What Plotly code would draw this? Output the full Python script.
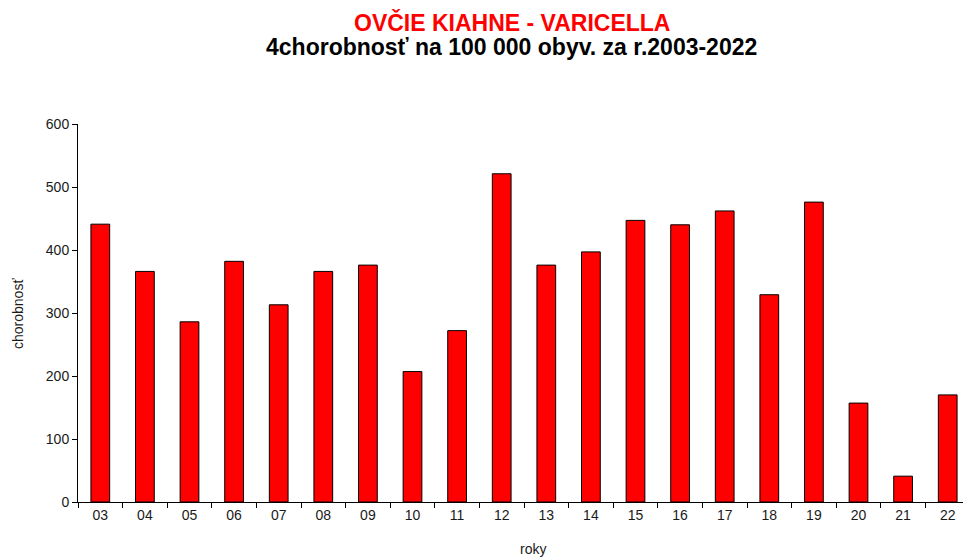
import plotly.graph_objects as go

years = ["03", "04", "05", "06", "07", "08", "09", "10", "11", "12",
         "13", "14", "15", "16", "17", "18", "19", "20", "21", "22"]
values = [441, 366, 286, 382, 313, 366, 376, 207, 272, 521,
          376, 397, 447, 440, 462, 329, 476, 157, 41, 170]
y_ticks = [0, 100, 200, 300, 400, 500, 600]

title_main = "OVČIE KIAHNE - VARICELLA"
title_sub = "4chorobnosť na 100 000 obyv. za r.2003-2022"

W, H = 963, 559
L, R, T, B = 78, 0, 124, 57
pw = W - L - R
ph = H - T - B

fig = go.Figure(go.Bar(
    x=years, y=values,
    marker=dict(color="#ff0000", line=dict(color="#000000", width=1)),
))

font_family = "Liberation Sans, Arial, sans-serif"
txt_color = "#1a1a1a"


def px_ann(text, x, y, size, color, angle=0):
    return dict(text=text, x=(x - L) / pw, y=(H - B - y) / ph,
                xref="paper", yref="paper", xanchor="center", yanchor="middle",
                showarrow=False, textangle=angle,
                font=dict(size=size, color=color, family=font_family))


fig.update_layout(
    width=W, height=H,
    margin=dict(l=L, r=R, t=T, b=B, pad=0),
    paper_bgcolor="white", plot_bgcolor="white",
    bargap=0.58,
    showlegend=False,
    font=dict(family=font_family, size=14, color=txt_color),
    annotations=[
        px_ann("<b>" + title_main + "</b>", 512, 22, 23, "#ff0000"),
        px_ann("<b>" + title_sub + "</b>", 511, 47, 23, "#000000"),
        px_ann("chorobnosť", 18, 314, 14, txt_color, -90),
        px_ann("roky", 533, 549, 14, txt_color),
    ],
)

cat_px = 44.6
fig.update_xaxes(
    type="category", range=[-0.5, -0.5 + pw / cat_px],
    showline=True, linecolor="#000000", linewidth=1,
    ticks="outside", tickson="boundaries", ticklen=5, tickcolor="#000000",
    showgrid=False, zeroline=False,
    tickfont=dict(size=14, color=txt_color),
)
fig.update_yaxes(
    range=[0, 600], tickvals=y_ticks,
    showline=True, linecolor="#000000", linewidth=1,
    ticks="outside", ticklen=5, tickcolor="#000000",
    showgrid=False, zeroline=False,
    tickfont=dict(size=14, color=txt_color),
)

fig.write_html("out.html", config={"displayModeBar": False},
               post_script="document.body.style.margin='0';document.body.style.overflow='hidden';")
